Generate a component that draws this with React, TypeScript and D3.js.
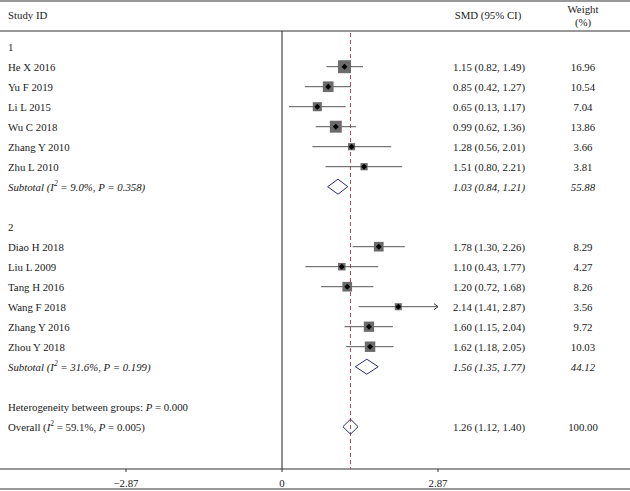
import React from 'react';
import * as d3 from 'd3';

// study level data, group 1 then group 2
const studies1 = ['He X 2016', 'Yu F 2019', 'Li L 2015', 'Wu C 2018', 'Zhang Y 2010', 'Zhu L 2010'];
const smd1 = [1.15, 0.85, 0.65, 0.99, 1.28, 1.51];
const lower1 = [0.82, 0.42, 0.13, 0.62, 0.56, 0.80];
const upper1 = [1.49, 1.27, 1.17, 1.36, 2.01, 2.21];
const weight1 = [16.96, 10.54, 7.04, 13.86, 3.66, 3.81];

const studies2 = ['Diao H 2018', 'Liu L 2009', 'Tang H 2016', 'Wang F 2018', 'Zhang Y 2016', 'Zhou Y 2018'];
const smd2 = [1.78, 1.10, 1.20, 2.14, 1.60, 1.62];
const lower2 = [1.30, 0.43, 0.72, 1.41, 1.15, 1.18];
const upper2 = [2.26, 1.77, 1.68, 2.87, 2.04, 2.05];
const weight2 = [8.29, 4.27, 8.26, 3.56, 9.72, 10.03];

// pooled: subtotal 1, subtotal 2, overall
const pooledEst = [1.03, 1.56, 1.26];
const pooledLow = [0.84, 1.35, 1.12];
const pooledHigh = [1.21, 1.77, 1.40];
const pooledWeight = ['55.88', '44.12', '100.00'];

const tickValues = [-2.87, 0, 2.87];

const W = 630, H = 491;
const font = '"Liberation Serif", "DejaVu Serif", serif';
const fs = 10.8;

const fmt = (v: number) => v.toFixed(2);
const ciText = (e: number, l: number, u: number) => `${fmt(e)} (${fmt(l)}, ${fmt(u)})`;

export default function App() {
  const x = d3.scaleLinear().domain([0, 2.87]).range([282, 438]);
  const rowY = (i: number) => 46.7 + i * 20;
  const size = d3.scaleSqrt().domain([0, 17]).range([2, 13]);
  const clipMax = 2.87;

  const rows: any[] = [];
  studies1.forEach((s, i) => rows.push({ name: s, e: smd1[i], l: lower1[i], u: upper1[i], w: weight1[i], row: 1 + i }));
  studies2.forEach((s, i) => rows.push({ name: s, e: smd2[i], l: lower2[i], u: upper2[i], w: weight2[i], row: 10 + i }));

  const pooledRows = [7, 16, 19];
  const textX = 8, ciX = 453, wX = 583;
  const yTop = 31, yAxis = 469;

  const diamond = (e: number, l: number, u: number, y: number, h: number) =>
    `M${x(l)},${y} L${x(e)},${y - h} L${x(u)},${y} L${x(e)},${y + h} Z`;

  return (
    <svg width={W} height={H} style={{ display: 'block', position: 'absolute', left: 0, top: 0 }}
      fontFamily={font} fontSize={fs} fill="#1a1a1a">
      <rect width={W} height={H} fill="#fff" />
      {/* frame lines */}
      <line x1={0} x2={W} y1={1} y2={1} stroke="#333" strokeWidth={1.2} />
      <line x1={0} x2={W} y1={yTop} y2={yTop} stroke="#333" strokeWidth={1.2} />
      <line x1={0} x2={W} y1={yAxis} y2={yAxis} stroke="#333" strokeWidth={1} />
      <line x1={0} x2={W} y1={489} y2={489} stroke="#333" strokeWidth={1.2} />

      {/* headers */}
      <text x={textX} y={15} dominantBaseline="central">Study ID</text>
      <text x={488} y={15} textAnchor="middle" dominantBaseline="central">SMD (95% CI)</text>
      <text x={wX} y={8.5} textAnchor="middle" dominantBaseline="central">Weight</text>
      <text x={wX} y={21.5} textAnchor="middle" dominantBaseline="central">(%)</text>

      {/* zero line and overall dashed line */}
      <line x1={x(0)} x2={x(0)} y1={yTop} y2={yAxis} stroke="#222" strokeWidth={1} />
      <line x1={x(pooledEst[2])} x2={x(pooledEst[2])} y1={yTop + 2} y2={yAxis}
        stroke="#a0525a" strokeWidth={1} strokeDasharray="4,3" />

      {/* axis ticks */}
      {tickValues.map(t => (
        <g key={t}>
          <line x1={x(t)} x2={x(t)} y1={yAxis} y2={yAxis + 3} stroke="#333" />
          <text x={x(t)} y={482.5} textAnchor="middle" dominantBaseline="central">
            {t < 0 ? '\u2212' + Math.abs(t).toFixed(2) : t === 0 ? '0' : t.toFixed(2)}
          </text>
        </g>
      ))}

      {/* group labels */}
      <text x={textX} y={rowY(0)} dominantBaseline="central">1</text>
      <text x={textX} y={rowY(9)} dominantBaseline="central">2</text>

      {/* studies */}
      {rows.map(r => {
        const y = rowY(r.row);
        const s = size(r.w);
        const hi = Math.min(r.u, clipMax);
        const arrow = r.u >= clipMax;
        return (
          <g key={r.name}>
            <text x={textX} y={y} dominantBaseline="central">{r.name}</text>
            <line x1={x(r.l)} x2={x(hi)} y1={y} y2={y} stroke="#555" strokeWidth={1} />
            {arrow && (
              <path d={`M${x(hi) - 4},${y - 3} L${x(hi)},${y} L${x(hi) - 4},${y + 3}`}
                fill="none" stroke="#333" strokeWidth={1} />
            )}
            <rect x={x(r.e) - s / 2} y={y - s / 2} width={s} height={s} fill="#6b6b6b" />
            <path d={`M${x(r.e) - 3},${y} L${x(r.e)},${y - 3} L${x(r.e) + 3},${y} L${x(r.e)},${y + 3} Z`} fill="#000" />
            <text x={ciX} y={y} dominantBaseline="central">{ciText(r.e, r.l, r.u)}</text>
            <text x={wX} y={y} textAnchor="middle" dominantBaseline="central">{fmt(r.w)}</text>
          </g>
        );
      })}

      {/* pooled rows */}
      {pooledRows.map((row, i) => {
        const y = rowY(row);
        const italic = i < 2;
        return (
          <g key={row}>
            <path d={diamond(pooledEst[i], pooledLow[i], pooledHigh[i], y, 7.5)}
              fill={i === 2 ? 'none' : '#fff'} stroke="#2b2d6b" strokeWidth={1} />
            <text x={ciX} y={y} dominantBaseline="central" fontStyle={italic ? 'italic' : 'normal'}>
              {ciText(pooledEst[i], pooledLow[i], pooledHigh[i])}
            </text>
            <text x={wX} y={y} textAnchor="middle" dominantBaseline="central" fontStyle={italic ? 'italic' : 'normal'}>
              {pooledWeight[i]}
            </text>
          </g>
        );
      })}

      {/* pooled labels */}
      <text x={textX} y={rowY(7)} dominantBaseline="central" fontStyle="italic">
        Subtotal (I<tspan dy={-4} fontSize={7.5}>2</tspan><tspan dy={4}> = 9.0%, P = 0.358)</tspan>
      </text>
      <text x={textX} y={rowY(16)} dominantBaseline="central" fontStyle="italic">
        Subtotal (I<tspan dy={-4} fontSize={7.5}>2</tspan><tspan dy={4}> = 31.6%, P = 0.199)</tspan>
      </text>
      <text x={textX} y={rowY(18)} dominantBaseline="central">
        Heterogeneity between groups: <tspan fontStyle="italic">P</tspan> = 0.000
      </text>
      <text x={textX} y={rowY(19)} dominantBaseline="central">
        Overall (<tspan fontStyle="italic">I</tspan><tspan dy={-4} fontSize={7.5}>2</tspan><tspan dy={4}> = 59.1%, </tspan><tspan fontStyle="italic">P</tspan> = 0.005)
      </text>
    </svg>
  );
}
